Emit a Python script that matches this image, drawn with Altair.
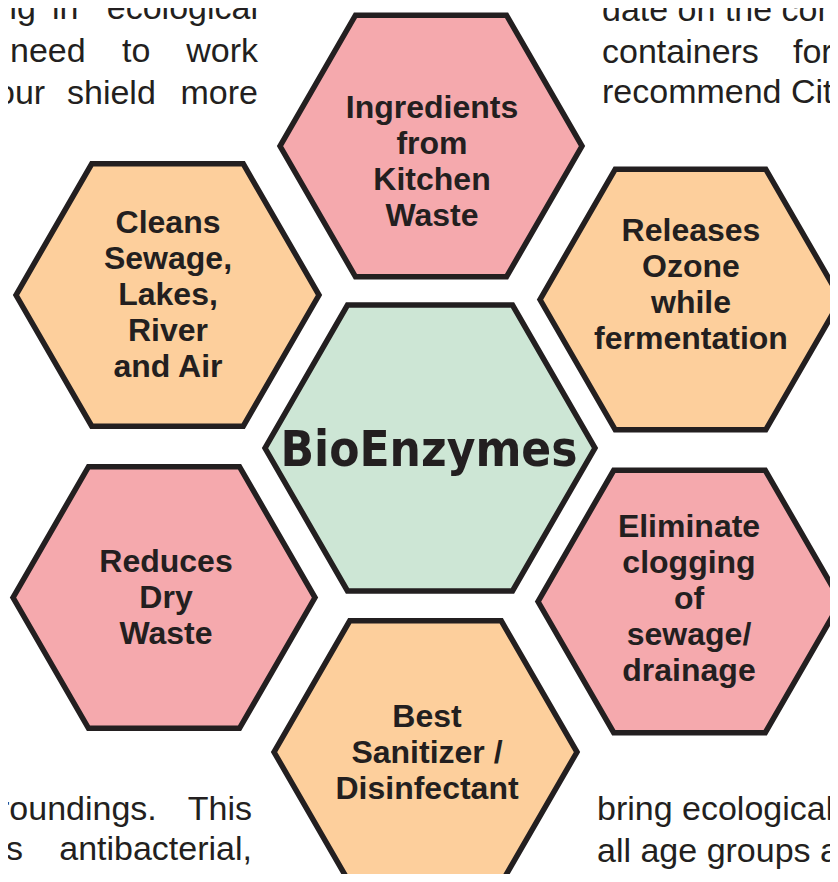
import altair as alt
import pandas as pd

# ---- hexagon diagram content ----
hex_names = ["center", "top", "upper_left", "upper_right", "lower_left", "lower_right", "bottom"]
hex_labels = [
    "BioEnzymes",
    "Ingredients\nfrom\nKitchen\nWaste",
    "Cleans\nSewage,\nLakes,\nRiver\nand Air",
    "Releases\nOzone\nwhile\nfermentation",
    "Reduces\nDry\nWaste",
    "Eliminate\nclogging\nof\nsewage/\ndrainage",
    "Best\nSanitizer /\nDisinfectant",
]
hex_group = ["core", "pink", "orange", "orange", "pink", "pink", "orange"]

# layout (pixel coordinates of the page)
hex_cx = [430, 431, 167.5, 690.5, 164, 689.5, 425.5]
hex_cy = [448, 146, 295, 299.5, 597.5, 601.5, 752]
hex_r = [165, 151, 151.5, 150.5, 151, 151.5, 151.5]
label_x = [429, 432, 168, 691, 166, 689, 427]
label_y = [466, 118, 233, 241, 572, 537, 727]

group_domain = ["core", "pink", "orange"]
group_range = ["#CDE6D5", "#F5A9AD", "#FDCF9C"]

# surrounding body text fragments
words = [
    "ng", "in", "ecological",
    "need", "to", "work",
    "our", "shield", "more",
    "date on the container",
    "containers", "for",
    "recommend Citrus",
    "roundings.", "This",
    "as", "antibacterial,",
    "and", "antifungal",
    "bring ecological",
    "all age groups and",
]
word_x = [
    -2, 52, 258,
    10, 122, 258,
    -4, 67, 258,
    602,
    602, 793,
    602,
    -2, 252,
    -13, 252,
    -14, 253,
    597,
    597,
]
word_y = [
    19, 19, 19,
    62, 62, 62,
    104, 104, 104,
    21,
    63, 63,
    103,
    820, 820,
    860, 860,
    899, 899,
    820,
    862,
]
word_align = [
    "l", "l", "r",
    "l", "l", "r",
    "l", "l", "r",
    "l",
    "l", "l",
    "l",
    "l", "r",
    "l", "r",
    "l", "r",
    "l",
    "l",
]

HEX_PATH = "M-1,0L-0.5,-0.8660254L0.5,-0.8660254L1,0L0.5,0.8660254L-0.5,0.8660254Z"
INK = "#231F20"

hex_df = pd.DataFrame({
    "name": hex_names,
    "label": hex_labels,
    "group": hex_group,
    "cx": hex_cx,
    "cy": hex_cy,
    "size": [(2 * r) ** 2 for r in hex_r],
    "lx": label_x,
    "ly": label_y,
})
words_df = pd.DataFrame({"word": words, "x": word_x, "y": word_y, "align": word_align})

xs = alt.Scale(domain=[8, 830], nice=False, zero=False)
ys = alt.Scale(domain=[8, 874], nice=False, zero=False, reverse=True)

hexes = alt.Chart(hex_df).mark_point(
    shape=HEX_PATH, filled=True, opacity=1, stroke=INK, strokeWidth=5.5,
    strokeJoin="miter", clip=True,
).encode(
    x=alt.X("cx:Q", scale=xs, axis=None),
    y=alt.Y("cy:Q", scale=ys, axis=None),
    size=alt.Size("size:Q", scale=None, legend=None),
    fill=alt.Fill("group:N", scale=alt.Scale(domain=group_domain, range=group_range), legend=None),
)

side_labels = alt.Chart(hex_df).transform_filter(alt.datum.name != "center").mark_text(
    font="Liberation Sans", fontWeight="bold", fontSize=32, lineHeight=36,
    lineBreak="\n", align="center", baseline="alphabetic", color=INK, clip=True,
).encode(
    x=alt.X("lx:Q", scale=xs, axis=None),
    y=alt.Y("ly:Q", scale=ys, axis=None),
    text="label:N",
)

center_label = alt.Chart(hex_df).transform_filter(alt.datum.name == "center").mark_text(
    font="DejaVu Sans Condensed", fontWeight="bold",
    fontSize=49, align="center", baseline="alphabetic", color=INK, clip=True,
).encode(
    x=alt.X("lx:Q", scale=xs, axis=None),
    y=alt.Y("ly:Q", scale=ys, axis=None),
    text="label:N",
)

body_left = alt.Chart(words_df).transform_filter(alt.datum.align == "l").mark_text(
    font="Liberation Sans", fontSize=34, align="left", baseline="alphabetic",
    color=INK, clip=True,
).encode(
    x=alt.X("x:Q", scale=xs, axis=None),
    y=alt.Y("y:Q", scale=ys, axis=None),
    text="word:N",
)
body_right = alt.Chart(words_df).transform_filter(alt.datum.align == "r").mark_text(
    font="Liberation Sans", fontSize=34, align="right", baseline="alphabetic",
    color=INK, clip=True,
).encode(
    x=alt.X("x:Q", scale=xs, axis=None),
    y=alt.Y("y:Q", scale=ys, axis=None),
    text="word:N",
)

chart = alt.layer(hexes, side_labels, center_label, body_left, body_right).properties(
    width=822, height=866, padding=0,
    autosize=alt.AutoSizeParams(type="none"),
    background="white",
).configure_view(stroke=None)

chart.save("out.html", embed_options={"renderer": "svg", "actions": False})
